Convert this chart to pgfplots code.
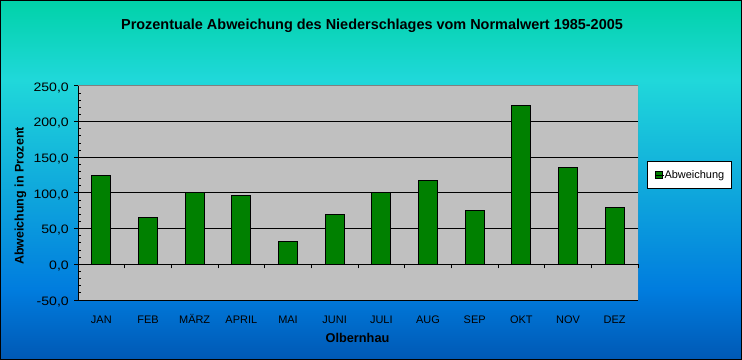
\documentclass[border=0pt]{standalone}
\usepackage{pgfplots}
\pgfplotsset{compat=1.18}
\usepackage{fontspec}
\setmainfont{Liberation Sans}
\newfontfamily\ytlfont[FakeStretch=1.15]{Liberation Sans}
\definecolor{bgtop}{RGB}{0,210,168}
\definecolor{bgcyan}{RGB}{32,216,218}
\definecolor{bgblue}{RGB}{0,124,222}
\definecolor{bgbot}{RGB}{0,88,180}
\definecolor{plotgray}{RGB}{192,192,192}
\definecolor{bordergray}{RGB}{128,128,128}
\definecolor{bargreen}{RGB}{0,128,0}
\pgfdeclareverticalshading{bgshade}{100bp}{color(0bp)=(bgbot); color(25bp)=(bgbot); color(34.7bp)=(bgblue); color(63.9bp)=(bgcyan); color(75bp)=(bgtop); color(100bp)=(bgtop)}
\begin{document}
\begin{tikzpicture}
\useasboundingbox (0,0) rectangle (742bp,360bp);
\shade[shading=bgshade] (0,0) rectangle (742bp,360bp);
\begin{axis}[
  at={(78bp,60bp)}, anchor=south west,
  scale only axis, width=560bp, height=214bp,
  xmin=-0.5, xmax=11.5, ymin=-50, ymax=250,
  ybar, bar width=19bp,
  axis line style={draw=none},
  axis background/.style={fill=plotgray},
  ytick={-50,0,50,100,150,200,250},
  yticklabels={{-50,0},{0,0},{50,0},{100,0},{150,0},{200,0},{250,0}},
  minor y tick num=4,
  ymajorgrids, major grid style={black, line width=1bp},
  ytick pos=left, ytick align=outside,
  major tick length=4bp, minor tick length=3bp,
  y tick style={black, line width=1bp},
  minor y tick style={xshift=3bp},
  xtick={0,...,11},
  xticklabels={JAN,FEB,MÄRZ,APRIL,MAI,JUNI,JULI,AUG,SEP,OKT,NOV,DEZ},
  x tick style={draw=none},
  xticklabel style={font=\fontsize{11}{13}\selectfont, anchor=base, inner sep=0pt, yshift=-19bp},
  yticklabel style={font=\ytlfont\fontsize{12.3}{14}\selectfont, anchor=base east, inner sep=0pt, xshift=-5bp, yshift=-5.3bp},
  legend style={at={(1.0152,0.584)}, anchor=west, draw=black, line width=1bp, fill=white,
    font=\fontsize{11}{13}\selectfont, inner xsep=7.5bp, inner ysep=7bp, nodes={inner xsep=0bp, inner ysep=1.5bp}},
  legend image code/.code={\draw[black, line width=0.8bp, fill=bargreen] (0bp,-3.5bp) rectangle (7bp,3.5bp); \path (0bp,0bp) -- (9bp,0bp);},
]
\addplot[fill=bargreen, draw=black, line width=1bp] coordinates {
 (0,125) (1,65) (2,100) (3,97) (4,32) (5,70) (6,100) (7,118) (8,75) (9,222) (10,136) (11,80)};
\addlegendentry{Abweichung}
\draw[bordergray, line width=1bp] (rel axis cs:0,0) rectangle (rel axis cs:1,1);
\draw[black, line width=1bp] (rel axis cs:0,0) -- (rel axis cs:0,1);
\end{axis}
\begin{axis}[
  at={(78bp,60bp)}, anchor=south west,
  scale only axis, width=560bp, height=214bp,
  xmin=-0.5, xmax=11.5, ymin=-50, ymax=250,
  axis x line=middle, axis y line=none,
  x axis line style={black, line width=1bp, -},
  xtick={-0.5,0.5,...,11.5}, xticklabels={},
  xtick align=outside, major tick length=4bp,
  x tick style={black, line width=1bp},
]
\end{axis}
\node[font=\bfseries\fontsize{14.5}{17}\selectfont, anchor=base] at (372bp,330.7bp) {Prozentuale Abweichung des Niederschlages vom Normalwert 1985-2005};
\node[font=\bfseries\fontsize{12.5}{15}\selectfont, rotate=90] at (20.5bp,164bp) {Abweichung in Prozent};
\node[font=\bfseries\fontsize{12.8}{15}\selectfont] at (357.5bp,22bp) {Olbernhau};
\draw[black, line width=1bp] (0.5bp,0.5bp) rectangle (741.5bp,359.5bp);
\end{tikzpicture}
\end{document}
